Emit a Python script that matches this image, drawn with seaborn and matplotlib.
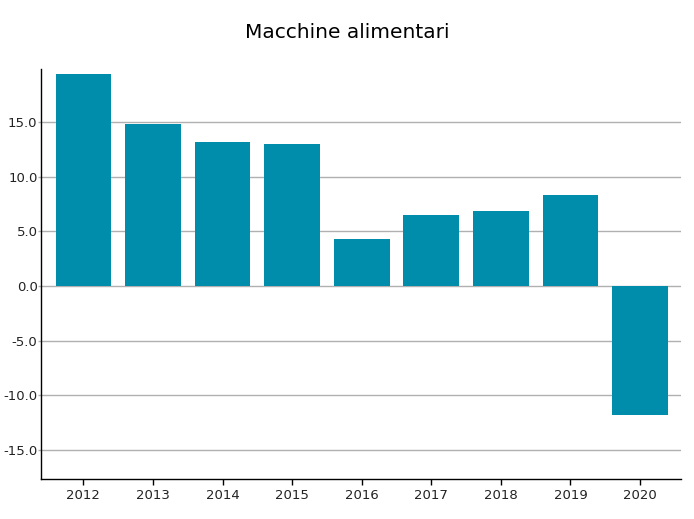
import numpy as np
import pandas as pd
import matplotlib
matplotlib.use("Agg")
import matplotlib.pyplot as plt
import seaborn as sns

years = ["2012", "2013", "2014", "2015", "2016", "2017", "2018", "2019", "2020"]
values = [19.4, 14.8, 13.2, 13.0, 4.3, 6.5, 6.9, 8.35, -11.8]
yticks = [-15.0, -10.0, -5.0, 0.0, 5.0, 10.0, 15.0]

df = pd.DataFrame({"anno": years, "valore": values})

sns.set_style("white")
plt.rcParams["font.family"] = ["DejaVu Sans"]

fig = plt.figure(figsize=(6.94, 5.19), dpi=100)
ax = fig.add_axes([41 / 694, 1 - 479 / 519, 640 / 694, 410 / 519])

sns.barplot(data=df, x="anno", y="valore", color="#008CAB", saturation=1,
            width=0.8, ax=ax, zorder=3, edgecolor="none", linewidth=0)

ax.set_xlim(-0.61, 8.59)
ax.set_ylim(-17.66, 19.85)
ax.set_yticks(yticks)
ax.set_yticklabels([f"{t:.1f}" for t in yticks])
ax.yaxis.grid(True, color="#b0b0b0", linewidth=1, zorder=0)
ax.set_axisbelow(True)

for s in ["top", "right"]:
    ax.spines[s].set_visible(False)
for s in ["left", "bottom"]:
    ax.spines[s].set_color("black")
    ax.spines[s].set_linewidth(1)

ax.tick_params(axis="both", which="both", width=1, labelsize=9.5,
               labelcolor="#222222", direction="out", bottom=True, left=True)
ax.tick_params(axis="x", length=4, color="black", pad=3)
ax.tick_params(axis="y", length=2, color="#b0b0b0", pad=0.5)
ax.set_xlabel("")
ax.set_ylabel("")

fig.suptitle("Macchine alimentari", y=1 - 33 / 519, va="center",
             fontsize=14.5, color="black")

fig.savefig("out.png", dpi=100)
